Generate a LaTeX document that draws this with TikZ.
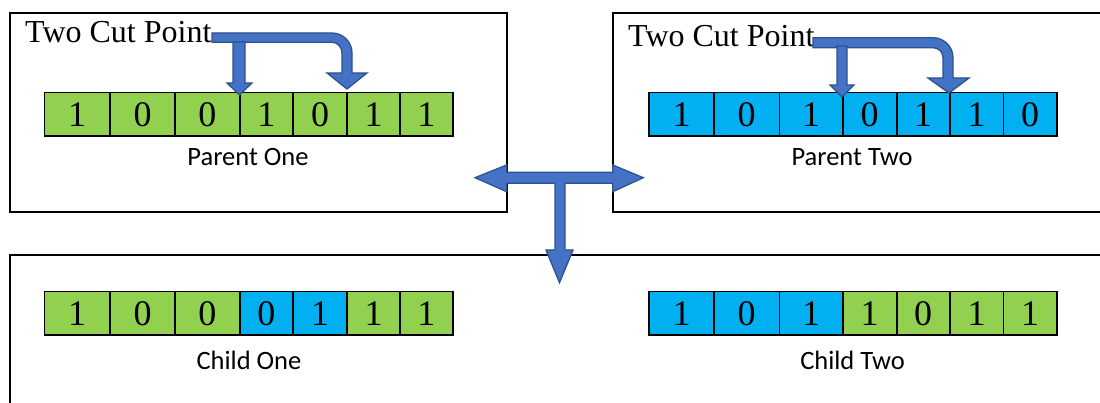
\documentclass[tikz,border=0pt]{standalone}
\usepackage{fontspec}
\setmainfont{Liberation Serif}
\newfontfamily\calibri{Carlito}
\definecolor{cgreen}{HTML}{92D050}
\definecolor{cblue}{HTML}{00B0F0}
\definecolor{afill}{HTML}{4472C4}
\definecolor{aedge}{HTML}{2F528F}
\begin{document}
\begin{tikzpicture}[x=1pt,y=-1pt,
 frame/.style={draw=black,line width=2pt},
 cell/.style={draw=black,line width=1.6pt,inner sep=0pt,minimum height=43.3pt,font=\fontsize{36}{36}\selectfont},
 blockarrow/.style={fill=afill,draw=aedge,line width=1.3pt,line join=miter},
 cutlabel/.style={anchor=base west,font=\fontsize{32}{32}\selectfont,inner sep=0pt},
 caption/.style={anchor=base,font=\calibri\fontsize{26.5}{26.5}\selectfont,inner sep=0pt}]
\useasboundingbox (0,0) rectangle (1100,403);
\clip (0,0) rectangle (1100,403);
% frames
\draw[frame] (9.5,12.7) rectangle (507,212);
\draw[frame] (612.7,12.7) rectangle (1120,212);
\draw[frame] (10,254.7) rectangle (1120,430);
% parent one
\foreach \l/\r/\d/\c [count=\i] in {44.3/110/1/cgreen,110/175/0/cgreen,175/239.7/0/cgreen,239.7/293/1/cgreen,293/347/0/cgreen,347/400/1/cgreen,400/452.7/1/cgreen}
  \node[cell,fill=\c,minimum width={\r-\l}] (pa\i) at ({(\l+\r)/2},114.3) {\d};
% parent two
\foreach \l/\r/\d/\c [count=\i] in {649/714/1/cblue,714/779.3/0/cblue,779.3/842.7/1/cblue,842.7/896.7/0/cblue,896.7/949.7/1/cblue,949.7/1003.3/1/cblue,1003.3/1056.7/0/cblue}
  \node[cell,fill=\c,minimum width={\r-\l}] (pb\i) at ({(\l+\r)/2},114.3) {\d};
% child one
\foreach \l/\r/\d/\c [count=\i] in {44.3/110/1/cgreen,110/175/0/cgreen,175/239.7/0/cgreen,239.7/293/0/cblue,293/347/1/cblue,347/400/1/cgreen,400/452.7/1/cgreen}
  \node[cell,fill=\c,minimum width={\r-\l}] (ca\i) at ({(\l+\r)/2},313.3) {\d};
% child two
\foreach \l/\r/\d/\c [count=\i] in {649/714/1/cblue,714/779.3/0/cblue,779.3/842.7/1/cblue,842.7/896.7/1/cgreen,896.7/949.7/0/cgreen,949.7/1003.3/1/cgreen,1003.3/1056.7/1/cgreen}
  \node[cell,fill=\c,minimum width={\r-\l}] (cb\i) at ({(\l+\r)/2},313.3) {\d};
% labels
\node[cutlabel] (cut1) at (25,43) {Two Cut Point};
\node[cutlabel] (cut2) at (628,47) {Two Cut Point};
\node[caption] (lp1) at (248,166) {Parent One};
\node[caption] (lp2) at (852,166) {Parent Two};
\node[caption] (lc1) at (249,369) {Child One};
\node[caption] (lc2) at (852.6,369) {Child Two};
% left cut arrows
\draw[blockarrow] (212,33) -- (332,33) .. controls (343,33) and (352,42) .. (352,53)
  -- (352,73) -- (367,73) -- (347,89) -- (327,73) -- (342,73) -- (342,53)
  .. controls (342,47) and (337.5,42.3) .. (332,42.3) -- (212,42.3) -- cycle;
\draw[blockarrow] (233,42) -- (245,42) -- (245,83) -- (252,83) -- (239.5,95) -- (227,83) -- (233,83) -- cycle;
% right cut arrows
\draw[blockarrow] (813,37.7) -- (933,37.7) .. controls (944,37.7) and (953,46.7) .. (953,57.7)
  -- (953,78) -- (969,78) -- (949,93) -- (928,78) -- (943,78) -- (943,57.7)
  .. controls (943,52) and (938.5,47.7) .. (933,47.7) -- (813,47.7) -- cycle;
\draw[blockarrow] (837,46) -- (847,46) -- (847,85) -- (854,85) -- (842,97) -- (830,85) -- (837,85) -- cycle;
% T arrow
\draw[blockarrow] (475,177.7) -- (506.7,165) -- (506.7,172.3) -- (612.7,172.3) -- (612.7,165)
  -- (643.3,177.7) -- (612.7,191.7) -- (612.7,183.3) -- (565,183.3) -- (565,250) -- (573,250)
  -- (559.5,282.7) -- (546,250) -- (555,250) -- (555,183.3) -- (506.7,183.3) -- (506.7,191.7) -- cycle;
\end{tikzpicture}
\end{document}
